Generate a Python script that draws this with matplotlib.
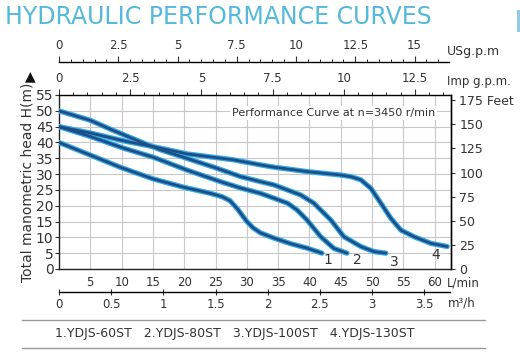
import matplotlib
matplotlib.use("Agg")
import matplotlib.pyplot as plt
from matplotlib.ticker import MultipleLocator
import numpy as np

# flow (L/min) and head (m)
flow_1 = [0, 5, 10, 15, 20, 24, 26, 27.3, 28.5, 30, 31, 32.2, 34.3, 37, 39.6, 42]
head_1 = [40, 36, 32, 28.5, 25.8, 24, 22.9, 21.6, 19, 15, 13, 11.4, 9.8, 8, 6.6, 5]
flow_2 = [0, 5, 10.3, 15.1, 20.4, 25.8, 29, 32.2, 34.3, 36.5, 38, 39.6, 41.8, 43.9, 46]
head_2 = [45, 41.9, 38.2, 35.3, 31.3, 27.6, 25.6, 23.9, 22.4, 20.8, 18.7, 15.5, 10.2, 6.5, 5]
flow_3 = [0, 5, 8.2, 13.5, 16.2, 20.4, 25, 29, 32.2, 34.3, 38.6, 40.7, 43.4, 45.5, 48.2, 50.3, 52.2]
head_3 = [50, 47, 44.2, 39.8, 37.7, 35, 32, 29.2, 27.6, 26.6, 23.4, 20.8, 15.5, 10.2, 7.1, 5.5, 5]
flow_4 = [0, 5, 10.8, 15, 20.4, 27.9, 32.2, 34.3, 39.6, 45, 46.6, 48.2, 49.8, 51.4, 53, 54.6, 56.7, 59.4, 62]
head_4 = [45, 43, 40.3, 38.7, 36.4, 34.5, 32.9, 32.2, 30.8, 29.7, 29.2, 28.2, 25.5, 20.8, 16, 12.3, 10.2, 8.1, 7.1]

curve_ids = ["1", "2", "3", "4"]
models = ["1.YDJS-60ST", "2.YDJS-80ST", "3.YDJS-100ST", "4.YDJS-130ST"]

XMAX = 62.6
LPM_PER_USG = 3.785
LPM_PER_IMP = 4.546
grey = "#c8c8c8"
txt = "#333333"

fig = plt.figure(figsize=(5.2, 3.63), dpi=100)

def fx(px):
    return px / 520.0

def fy(py):
    return 1 - py / 363.0

L, R, T, B = 59, 451, 95, 269
ax = fig.add_axes([fx(L), fy(B), fx(R - L), fy(T) - fy(B)])
ax.set_xlim(0, XMAX)
ax.set_ylim(0, 55)
ax.set_xticks(np.arange(5, 61, 5))
ax.set_yticks(np.arange(0, 56, 5))
ax.grid(True, color=grey, lw=0.8)
ax.tick_params(axis="x", length=0, labelsize=8.5, colors=txt, pad=5)
ax.tick_params(axis="y", length=3, labelsize=10, colors=txt, pad=1)
for s in ["left", "bottom", "right"]:
    ax.spines[s].set_color("#222222")
    ax.spines[s].set_linewidth(1.0)
ax.spines["top"].set_visible(False)
ax.set_ylabel("Total manometric head H(m)", fontsize=10, color=txt, labelpad=1)

# top Imp gpm scale on the top edge
imp = ax.twiny()
imp.set_xlim(0, XMAX / LPM_PER_IMP)
imp.xaxis.set_major_locator(MultipleLocator(2.5))
imp.xaxis.set_minor_locator(MultipleLocator(0.5))
imp.tick_params(axis="x", which="major", length=4, direction="out", labelsize=8.5, colors=txt, pad=3)
imp.tick_params(axis="x", which="minor", length=2.5, direction="out")
imp.xaxis.set_major_formatter(plt.FuncFormatter(lambda v, p: f"{v:g}"))
imp.spines["top"].set_linewidth(1.0)
for s in ["left", "bottom", "right"]:
    imp.spines[s].set_visible(False)

# right feet scale
ft = ax.twinx()
ft.set_ylim(0, 55 / 0.3048)
ft.set_yticks(np.arange(0, 176, 25))
ft.set_yticklabels([str(v) if v != 175 else "175 Feet" for v in range(0, 176, 25)])
ft.tick_params(axis="y", length=3, labelsize=9, colors=txt, pad=3)
for s in ["left", "bottom", "top"]:
    ft.spines[s].set_visible(False)
ft.spines["right"].set_linewidth(1.0)

for fl, hd in [(flow_1, head_1), (flow_2, head_2), (flow_3, head_3), (flow_4, head_4)]:
    ax.plot(fl, hd, color="#35a8e6", lw=3.8, solid_capstyle="round", solid_joinstyle="round", zorder=3)
    ax.plot(fl, hd, color="#1c4f86", lw=2.0, solid_capstyle="round", solid_joinstyle="round", zorder=4)

ends = [(flow_1[-1], head_1[-1]), (flow_2[-1], head_2[-1]), (flow_3[-1], head_3[-1]), (flow_4[-1], head_4[-1])]
offs = [(1.0, -2.2), (1.6, -2.0), (1.3, -2.7), (-1.9, -2.7)]
for cid, (ex, ey), (dx, dy) in zip(curve_ids, ends, offs):
    ax.text(ex + dx, ey + dy, cid, fontsize=10, color=txt, ha="center", va="center", zorder=5)

ax.text(27.6, 49.4, "Performance Curve at n=3450 r/min", fontsize=8, color=txt, va="center",
        bbox=dict(facecolor="white", edgecolor="none", pad=1.5), zorder=5)
ax.text(XMAX - 0.6, -2.3, "L/min", fontsize=8.5, color=txt, va="top", ha="left", clip_on=False)

# US gpm scale above
us = fig.add_axes([fx(L), fy(62), fx(449 - L), 0.001])
us.set_xlim(0, (449 - L) / (R - L) * XMAX / LPM_PER_USG)
us.xaxis.set_major_locator(MultipleLocator(2.5))
us.xaxis.set_minor_locator(MultipleLocator(0.5))
us.xaxis.set_major_formatter(plt.FuncFormatter(lambda v, p: f"{v:g}"))
us.xaxis.tick_top()
us.tick_params(axis="x", which="major", length=4, direction="out", labelsize=8.5, colors=txt, pad=3)
us.tick_params(axis="x", which="minor", length=2.5, direction="out")
us.set_yticks([])
for s in ["left", "right", "bottom"]:
    us.spines[s].set_visible(False)
us.spines["top"].set_linewidth(1.0)
fig.text(fx(447), fy(52), "USg.p.m", fontsize=9, color=txt, va="center")
fig.text(fx(447), fy(82), "Imp g.p.m.", fontsize=8.5, color=txt, va="center")

# m3/h scale below
m3 = fig.add_axes([fx(L), fy(292), fx(450 - L), 0.001])
m3.set_xlim(0, (450 - L) / (R - L) * XMAX * 0.06)
m3.xaxis.set_major_locator(MultipleLocator(0.5))
m3.xaxis.set_major_formatter(plt.FuncFormatter(lambda v, p: f"{v:g}"))
m3.tick_params(axis="x", length=5, direction="inout", labelsize=8.5, colors=txt, pad=2)
m3.set_yticks([])
for s in ["left", "right", "top"]:
    m3.spines[s].set_visible(False)
m3.spines["bottom"].set_linewidth(1.0)
fig.text(fx(448), fy(303), "m\u00b3/h", fontsize=8.5, color=txt, va="center")

# title, marker, legend band
fig.text(fx(5), fy(17), "HYDRAULIC PERFORMANCE CURVES", fontsize=17, color="#55b9dc", va="center")
fig.text(fx(30), fy(76), "\u25B2", fontsize=10, color="#111111", ha="center", va="center")
fig.add_artist(plt.Rectangle((fx(517), fy(32)), fx(3), fy(10) - fy(32), color="#8fcbe6", lw=0))
fig.add_artist(plt.Line2D([fx(22), fx(485)], [fy(320), fy(320)], color="#999999", lw=1.0))
fig.add_artist(plt.Line2D([fx(22), fx(485)], [fy(348), fy(348)], color="#999999", lw=1.0))
fig.text(fx(55), fy(334), "   ".join(models), fontsize=9, color=txt, va="center")

fig.savefig("out.png", dpi=100)
